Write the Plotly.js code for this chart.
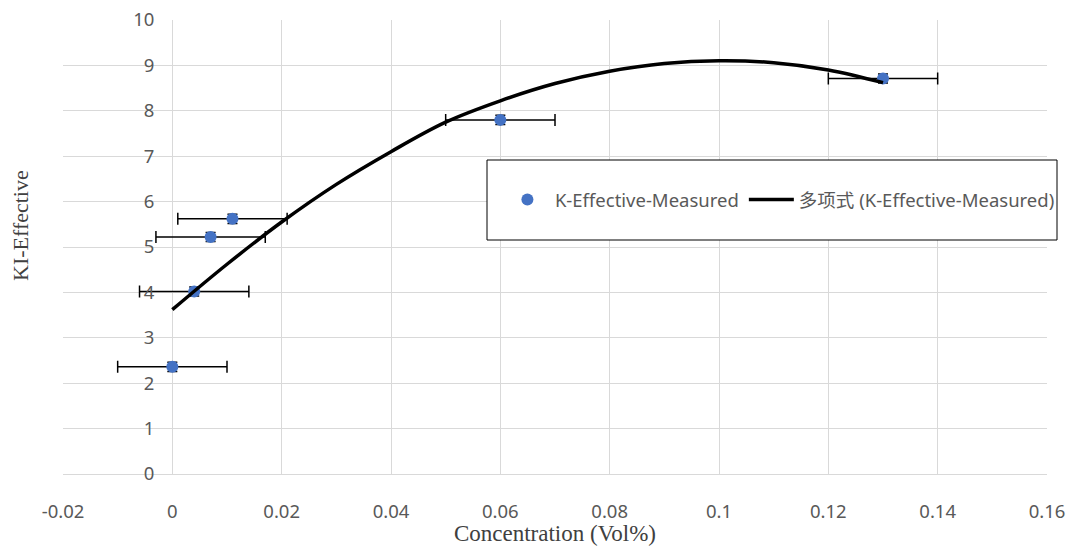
<!DOCTYPE html>
<html>
<head>
<meta charset="utf-8">
<script src="https://cdn.plot.ly/plotly-3.0.1.min.js"></script>
<style>html,body{margin:0;padding:0;background:#fff;}#chart{width:1073px;height:546px;}</style>
</head>
<body>
<div id="chart"></div>
<script>
// Measured data
const concentration = [0, 0.004, 0.007, 0.011, 0.06, 0.13];
const kEffective = [2.36, 4.02, 5.22, 5.62, 7.8, 8.71];
const concErr = [0.01, 0.01, 0.01, 0.01, 0.01, 0.01];
const kErr = [0.1, 0.1, 0.1, 0.1, 0.1, 0.1];

// Polynomial trendline
const trendX = [0, 0.01, 0.02, 0.03, 0.04, 0.05, 0.06, 0.07, 0.08, 0.09, 0.10, 0.11, 0.12, 0.13];
const trendY = [3.62, 4.62, 5.55, 6.38, 7.1, 7.75, 8.22, 8.6, 8.87, 9.04, 9.1, 9.06, 8.9, 8.62];

// Axis ticks
const xTickVals = [-0.02, 0, 0.02, 0.04, 0.06, 0.08, 0.1, 0.12, 0.14, 0.16];
const xTickText = ['-0.02', '0', '0.02', '0.04', '0.06', '0.08', '0.1', '0.12', '0.14', '0.16'];
const yTickVals = [0, 1, 2, 3, 4, 5, 6, 7, 8, 9, 10];
const yTickText = ['0', '1', '2', '3', '4', '5', '6', '7', '8', '9', '10'];

const measuredName = 'K-Effective-Measured';
const trendName = '多项式 (K-Effective-Measured)';
const xTitle = 'Concentration (Vol%)';
const yTitle = 'KI-Effective';

const gridColor = '#d9d9d9';
const labelColor = '#595959';

const traces = [
  {
    x: concentration, y: kEffective, name: measuredName,
    type: 'scatter', mode: 'markers',
    marker: {color: '#4472C4', size: 12},
    error_x: {type: 'data', array: concErr, visible: true, color: '#000', thickness: 1.5, width: 6},
    error_y: {type: 'data', array: kErr, visible: true, color: '#000', thickness: 1.5, width: 5}
  },
  {
    x: trendX, y: trendY, name: trendName,
    type: 'scatter', mode: 'lines',
    line: {color: '#000', width: 3.5, shape: 'spline'}
  }
];

const xmin = -0.02, xmax = 0.16;
const layout = {
  width: 1073, height: 546,
  margin: {l: 63, r: 26, t: 20, b: 72},
  paper_bgcolor: '#fff', plot_bgcolor: '#fff',
  font: {family: 'Noto Sans, Noto Sans CJK SC, sans-serif', color: labelColor},
  showlegend: true,
  legend: {
    orientation: 'h', x: 0.444, xanchor: 'left', y: 0.6035, yanchor: 'middle',
    bgcolor: 'rgba(0,0,0,0)', borderwidth: 0, itemwidth: 45,
    font: {family: 'Noto Sans, Noto Sans CJK SC, sans-serif', size: 18.5, color: labelColor}
  },
  xaxis: {
    range: [xmin, xmax], tickmode: 'array', tickvals: xTickVals, ticktext: xTickText,
    showgrid: true, gridcolor: gridColor, gridwidth: 1,
    zeroline: true, zerolinecolor: gridColor, zerolinewidth: 1,
    showline: false, automargin: false,
    ticks: 'outside', ticklen: 21, tickcolor: 'rgba(0,0,0,0)',
    tickfont: {family: 'Noto Sans, sans-serif', size: 18.5, color: labelColor},
    title: {text: xTitle, font: {family: 'Liberation Serif, serif', size: 23, color: '#404040'}, standoff: 10}
  },
  yaxis: {
    range: [0, 10], tickmode: 'array', tickvals: yTickVals, ticktext: yTickText,
    anchor: 'free', position: (0 - xmin) / (xmax - xmin),
    showgrid: true, gridcolor: gridColor, gridwidth: 1,
    zeroline: true, zerolinecolor: gridColor, zerolinewidth: 1,
    showline: false, ticks: '', ticklabelstandoff: 18, automargin: false,
    tickfont: {family: 'Noto Sans, sans-serif', size: 18.5, color: labelColor}
  },
  shapes: [
    {type: 'rect', xref: 'paper', yref: 'paper',
     x0: (487 - 63) / 984, x1: (1057 - 63) / 984,
     y0: (474 - 240) / 454, y1: (474 - 160) / 454,
     line: {color: '#000', width: 1}, fillcolor: '#fff', layer: 'above'}
  ],
  annotations: [
    {text: yTitle, xref: 'paper', yref: 'paper', x: (20 - 63) / 984, y: (474 - 226) / 454,
     xanchor: 'center', yanchor: 'middle', showarrow: false, textangle: -90,
     font: {family: 'Liberation Serif, serif', size: 22, color: '#404040'}}
  ]
};

Plotly.newPlot('chart', traces, layout, {displayModeBar: false, staticPlot: true});
</script>
</body>
</html>
